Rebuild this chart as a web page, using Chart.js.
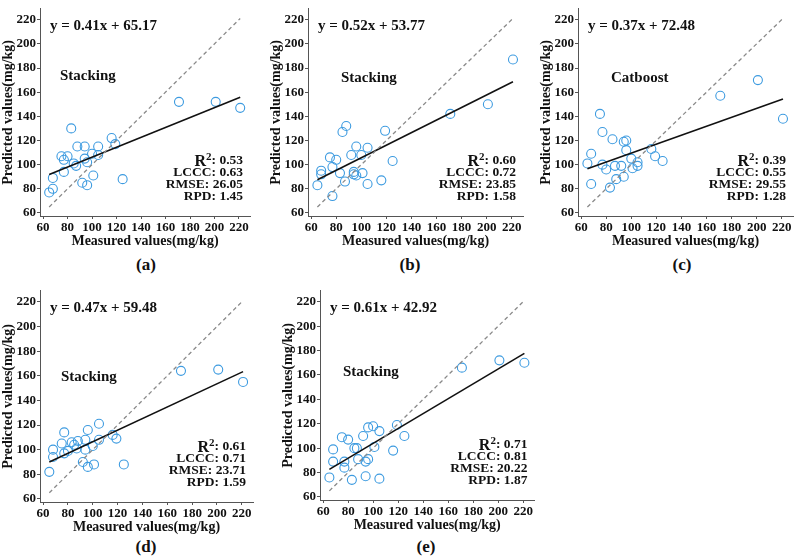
<!DOCTYPE html>
<html>
<head>
<meta charset="utf-8">
<script src="https://cdn.jsdelivr.net/npm/chart.js@4.4.1/dist/chart.umd.min.js"></script>
<style>
  body { margin: 0; background: #fff; width: 800px; height: 558px; position: relative; overflow: hidden; }
  .panel { position: absolute; }
  .lab { position: absolute; font: bold 17px "Liberation Serif", serif; color: #111; transform: translate(-50%, -50%); }
</style>
</head>
<body>
<script>
// measured values, shared by all models (mg/kg)
var measured = [65, 68, 68, 75, 77, 77, 80, 83, 85, 87, 88, 92, 94, 94, 96, 96, 100, 101, 105, 105, 116, 119, 125, 171, 201, 221];

// predicted values per panel
var predA = [77, 80, 89, 107, 104, 94, 107, 130, 101, 99, 115, 85, 115, 105, 102, 83, 109, 91, 115, 108, 122, 117, 88, 152, 152, 147];
var predB = [83, 92, 95, 106, 74, 98, 104, 93, 127, 86, 132, 108, 94, 92, 115, 91, 108, 93, 114, 84, 87, 128, 103, 142, 150, 187];
var predC = [101, 109, 84, 142, 127, 100, 96, 81, 121, 99, 88, 99, 90, 119, 120, 112, 105, 97, 102, 99, 113, 107, 103, 157, 170, 138];
var predD = [82, 100, 94, 105, 114, 97, 99, 106, 104, 101, 107, 90, 100, 108, 116, 86, 103, 88, 121, 108, 112, 109, 88, 164, 165, 155];
var predE = [76, 89, 99, 109, 89, 84, 107, 74, 100, 100, 91, 110, 89, 77, 117, 91, 118, 101, 114, 75, 98, 119, 110, 166, 172, 170];

var models = ['Stacking', 'Stacking', 'Catboost', 'Stacking', 'Stacking'];
var panelNames = ['(a)', '(b)', '(c)', '(d)', '(e)'];
var slopes = [0.41, 0.52, 0.37, 0.47, 0.61];
var intercepts = [65.17, 53.77, 72.48, 59.48, 42.92];
var r2 = ['0.53', '0.60', '0.39', '0.61', '0.71'];
var lccc = ['0.63', '0.72', '0.55', '0.71', '0.81'];
var rmse = ['26.05', '23.85', '29.55', '23.71', '20.22'];
var rpd = ['1.45', '1.58', '1.28', '1.59', '1.87'];
var lineRange = [65, 221];
var tickValues = [60, 80, 100, 120, 140, 160, 180, 200, 220];

var predicted = [predA, predB, predC, predD, predE];

// where each panel sits on the page
var layout = [
  { left: 0,   top: 0,   w: 265, h: 250, padTop: 3, padRight: 15, label: [146, 265], model: [20, 67] },
  { left: 268, top: 0,   w: 265, h: 250, padTop: 3, padRight: 10, label: [410, 265], model: [33, 69] },
  { left: 538, top: 0,   w: 262, h: 250, padTop: 3, padRight: 7,  label: [682, 265], model: [33, 69] },
  { left: 0,   top: 282, w: 265, h: 254, padTop: 3, padRight: 12, label: [146, 547], model: [21, 86] },
  { left: 280, top: 282, w: 260, h: 252, padTop: 2, padRight: 5,  label: [426, 547], model: [23, 81] }
];

var serif = '"Liberation Serif", "Times New Roman", serif';
var blue = '#3d9be0';

var panelText = {
  id: 'panelText',
  afterDatasetsDraw: function (chart, args, opts) {
    var ctx = chart.ctx, a = chart.chartArea;
    ctx.save();
    ctx.fillStyle = '#111';
    ctx.textBaseline = 'middle';
    ctx.textAlign = 'left';
    ctx.font = 'bold 15px ' + serif;
    ctx.fillText(opts.equation, a.left + 10, a.top + 17);
    ctx.fillText(opts.model, a.left + opts.modelPos[0], a.top + opts.modelPos[1]);

    // stats block, right aligned
    ctx.textAlign = 'right';
    var rx = a.right - 7;
    var statFont = 'bold 13.5px ' + serif;
    ctx.font = statFont;
    var y0 = a.bottom - 55;
    var rest = ': ' + opts.r2;
    ctx.fillText(rest, rx, y0);
    var w1 = ctx.measureText(rest).width;
    ctx.font = 'bold 11px ' + serif;
    ctx.fillText('2', rx - w1, y0 - 4);
    var w2 = ctx.measureText('2').width;
    ctx.font = 'bold 16px ' + serif;
    ctx.fillText('R', rx - w1 - w2, y0 + 0.5);
    ctx.font = statFont;
    ctx.fillText('LCCC: ' + opts.lccc, rx, a.bottom - 43);
    ctx.fillText('RMSE: ' + opts.rmse, rx, a.bottom - 31);
    ctx.fillText('RPD: ' + opts.rpd, rx, a.bottom - 19);
    ctx.restore();
  }
};

function axis(titleText, fit) {
  return {
    type: 'linear',
    min: 57.5,
    max: 229,
    afterBuildTicks: function (scale) {
      scale.ticks = tickValues.map(function (v) { return { value: v }; });
    },
    afterFit: fit,
    grid: { display: true, drawOnChartArea: false, drawTicks: true, tickLength: 3, color: '#555' },
    border: { display: true, color: '#555', width: 1 },
    ticks: { color: '#111', padding: 1, font: { family: serif, size: 13, weight: 'bold' } },
    title: { display: true, text: titleText, color: '#111', padding: 0, font: { family: serif, size: 14, weight: 'bold' } }
  };
}

for (var i = 0; i < 5; i++) {
  var L = layout[i];
  var box = document.createElement('div');
  box.className = 'panel';
  box.style.left = L.left + 'px';
  box.style.top = L.top + 'px';
  box.style.width = L.w + 'px';
  box.style.height = L.h + 'px';
  var cv = document.createElement('canvas');
  box.appendChild(cv);
  document.body.appendChild(box);

  var lab = document.createElement('div');
  lab.className = 'lab';
  lab.style.left = L.label[0] + 'px';
  lab.style.top = L.label[1] + 'px';
  lab.textContent = panelNames[i];
  document.body.appendChild(lab);

  var pts = measured.map(function (m, k) { return { x: m, y: predicted[i][k] }; });
  var s = slopes[i], b = intercepts[i];
  var fit = lineRange.map(function (x) { return { x: x, y: s * x + b }; });
  var oneToOne = lineRange.map(function (x) { return { x: x, y: x }; });

  new Chart(cv, {
    type: 'scatter',
    data: {
      datasets: [
        { type: 'line', data: oneToOne, borderColor: '#8a8a8a', borderWidth: 1.3, borderDash: [4, 3], pointRadius: 0, fill: false },
        { type: 'line', data: fit, borderColor: '#111', borderWidth: 1.6, pointRadius: 0, fill: false },
        { data: pts, pointRadius: 4.5, pointBorderWidth: 1.1, borderColor: blue, backgroundColor: 'rgba(0,0,0,0)', pointBackgroundColor: 'rgba(0,0,0,0)', pointBorderColor: blue }
      ]
    },
    options: {
      responsive: true,
      maintainAspectRatio: false,
      animation: false,
      layout: { padding: { top: L.padTop, right: L.padRight, left: 0, bottom: 0 } },
      plugins: {
        legend: { display: false },
        tooltip: { enabled: false },
        panelText: {
          equation: 'y = ' + s.toFixed(2) + 'x + ' + b.toFixed(2),
          model: models[i],
          modelPos: L.model,
          r2: r2[i], lccc: lccc[i], rmse: rmse[i], rpd: rpd[i]
        }
      },
      scales: {
        x: axis('Measured values(mg/kg)', function (sc) { sc.height = 34; }),
        y: axis('Predicted values(mg/kg)', function (sc) { sc.width = 40; })
      }
    },
    plugins: [panelText]
  });
}
</script>
</body>
</html>
